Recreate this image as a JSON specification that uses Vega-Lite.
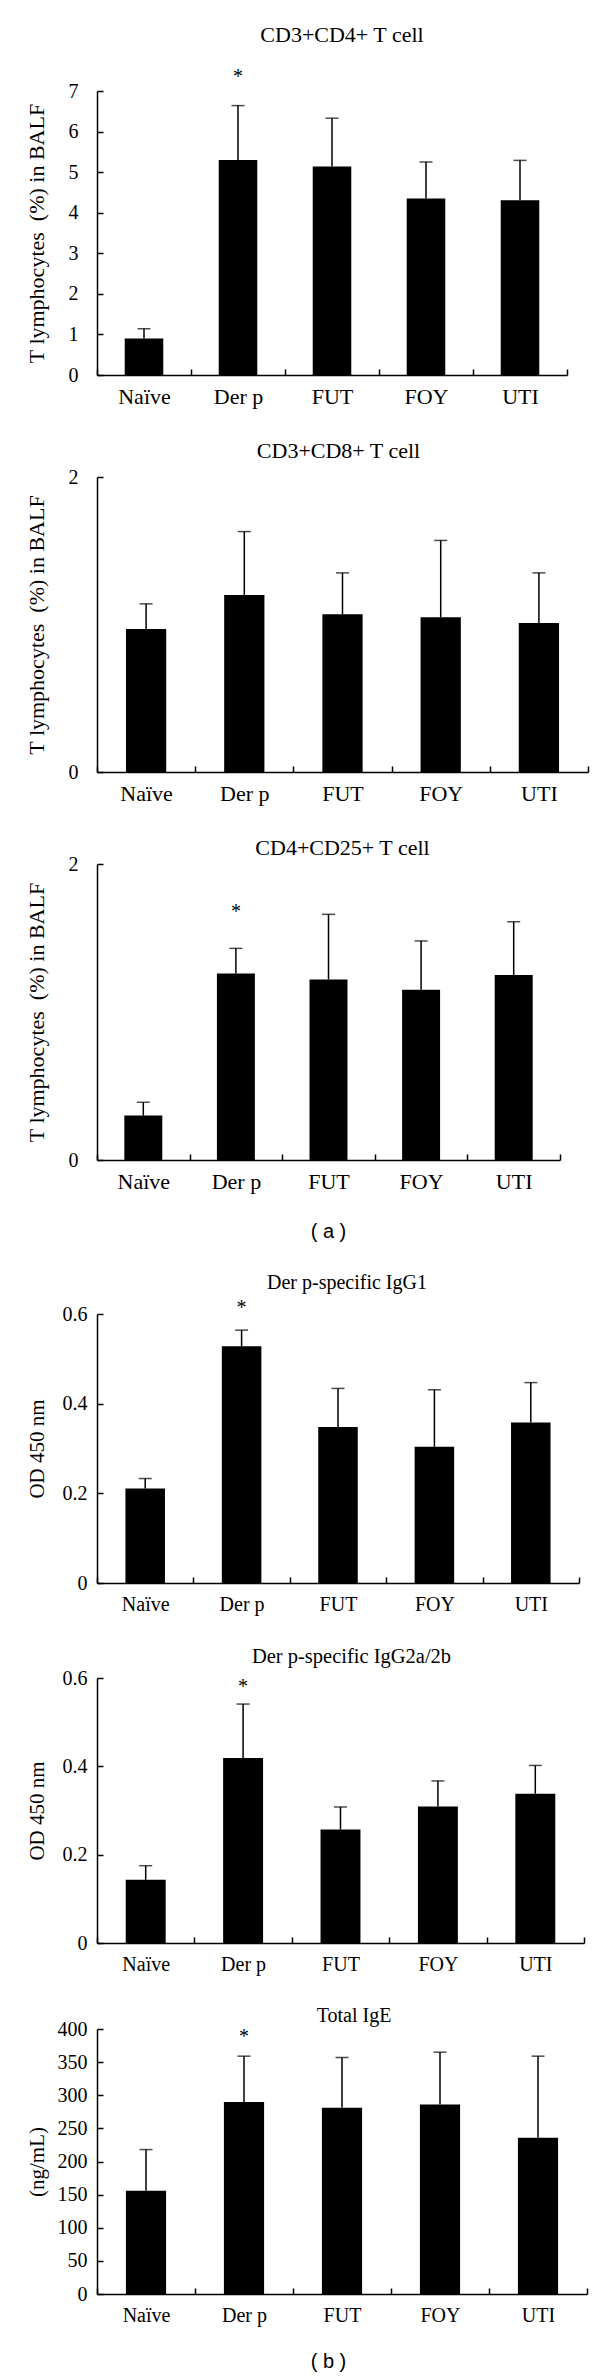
{
  "$schema": "https://vega.github.io/schema/vega-lite/v6.json",
  "background": "white",
  "padding": {"left": 24, "top": 23, "right": 5, "bottom": 5},
  "spacing": 32,
  "config": {
    "view": {"stroke": null},
    "font": "Liberation Serif",
    "title": {"font": "Liberation Serif", "fontWeight": "normal", "color": "#000", "baseline": "alphabetic", "frame": "group", "anchor": "middle"},
    "axis": {"domainColor": "#000", "domainWidth": 1.5, "tickColor": "#000", "tickWidth": 1.5, "labelColor": "#000", "titleColor": "#000", "grid": false, "labelFont": "Liberation Serif", "titleFont": "Liberation Serif", "titleFontWeight": "normal", "labelOverlap": false},
    "axisX": {"labelAngle": 0, "tickSize": -6, "tickBand": "extent", "labelPadding": 17.6},
    "axisY": {"tickSize": -6, "labelOverlap": false}
  },
  "vconcat": [
    {
      "width": 470, "height": 284,
      "title": {"text": "CD3+CD4+ T cell", "fontSize": 22, "offset": 20, "dx": 10},
      "data": {"values": [
        {"g": "Naïve", "v": 0.90, "e": 1.14, "s": null},
        {"g": "Der p", "v": 5.30, "e": 6.64, "s": 7.2},
        {"g": "FUT", "v": 5.14, "e": 6.33, "s": null},
        {"g": "FOY", "v": 4.35, "e": 5.25, "s": null},
        {"g": "UTI", "v": 4.31, "e": 5.29, "s": null}
      ]},
      "encoding": {"x": {"field": "g", "type": "nominal", "sort": null, "scale": {"paddingInner": 0, "paddingOuter": 0}, "axis": {"title": null, "labelFontSize": 22}}},
      "layer": [
        {"mark": {"type": "bar", "width": {"band": 0.41}, "color": "#000"},
         "encoding": {"y": {"field": "v", "type": "quantitative", "scale": {"domain": [0, 7], "nice": false},
           "axis": {"title": "T lymphocytes\u00a0 (%) in BALF", "titleFontSize": 22, "titleX": -54, "titleBaseline": "alphabetic", "tickCount": 7, "format": "d", "labelFontSize": 20, "labelPadding": 25, "labelOverlap": false}}}},
        {"mark": {"type": "rule", "strokeWidth": 1.5, "color": "#000"},
         "encoding": {"y": {"field": "v", "type": "quantitative"}, "y2": {"field": "e"}}},
        {"mark": {"type": "tick", "size": 13, "thickness": 1.5, "color": "#000", "orient": "horizontal"},
         "encoding": {"y": {"field": "e", "type": "quantitative"}}},
        {"transform": [{"filter": "datum.s != null"}],
         "mark": {"type": "text", "text": "*", "fontSize": 20, "baseline": "alphabetic", "color": "#000"},
         "encoding": {"y": {"field": "s", "type": "quantitative"}}}
      ]
    },
    {
      "width": 491, "height": 295,
      "title": {"text": "CD3+CD8+ T cell", "fontSize": 22, "offset": 4, "dx": -4},
      "data": {"values": [
        {"g": "Naïve", "v": 0.97, "e": 1.14},
        {"g": "Der p", "v": 1.20, "e": 1.63},
        {"g": "FUT", "v": 1.07, "e": 1.35},
        {"g": "FOY", "v": 1.05, "e": 1.57},
        {"g": "UTI", "v": 1.01, "e": 1.35}
      ]},
      "encoding": {"x": {"field": "g", "type": "nominal", "sort": null, "scale": {"paddingInner": 0, "paddingOuter": 0}, "axis": {"title": null, "labelFontSize": 22}}},
      "layer": [
        {"mark": {"type": "bar", "width": {"band": 0.41}, "color": "#000"},
         "encoding": {"y": {"field": "v", "type": "quantitative", "scale": {"domain": [0, 2], "nice": false},
           "axis": {"title": "T lymphocytes\u00a0 (%) in BALF", "titleFontSize": 22, "titleX": -54, "titleBaseline": "alphabetic", "values": [0,1,2], "format": "d", "labelFontSize": 20, "labelPadding": 25, "labelOverlap": false}}}},
        {"mark": {"type": "rule", "strokeWidth": 1.5, "color": "#000"},
         "encoding": {"y": {"field": "v", "type": "quantitative"}, "y2": {"field": "e"}}},
        {"mark": {"type": "tick", "size": 13, "thickness": 1.5, "color": "#000", "orient": "horizontal"},
         "encoding": {"y": {"field": "e", "type": "quantitative"}}}
      ]
    },
    {
      "width": 463, "height": 296,
      "title": {"text": "CD4+CD25+ T cell", "fontSize": 22, "offset": -6, "dx": 14},
      "data": {"values": [
        {"g": "Naïve", "v": 0.30, "e": 0.39, "s": null},
        {"g": "Der p", "v": 1.26, "e": 1.43, "s": 1.635},
        {"g": "FUT", "v": 1.22, "e": 1.66, "s": null},
        {"g": "FOY", "v": 1.15, "e": 1.48, "s": null},
        {"g": "UTI", "v": 1.25, "e": 1.61, "s": null}
      ]},
      "encoding": {"x": {"field": "g", "type": "nominal", "sort": null, "scale": {"paddingInner": 0, "paddingOuter": 0},
        "axis": {"title": "( a )", "titleFont": "Liberation Sans", "titleFontSize": 20, "titleX": 231, "titleY": 71, "titleAlign": "center", "titleBaseline": "middle", "labelFontSize": 22}}},
      "layer": [
        {"mark": {"type": "bar", "width": {"band": 0.41}, "color": "#000"},
         "encoding": {"y": {"field": "v", "type": "quantitative", "scale": {"domain": [0, 2], "nice": false},
           "axis": {"title": "T lymphocytes\u00a0 (%) in BALF", "titleFontSize": 22, "titleX": -54, "titleBaseline": "alphabetic", "values": [0,1,2], "format": "d", "labelFontSize": 20, "labelPadding": 25, "labelOverlap": false}}}},
        {"mark": {"type": "rule", "strokeWidth": 1.5, "color": "#000"},
         "encoding": {"y": {"field": "v", "type": "quantitative"}, "y2": {"field": "e"}}},
        {"mark": {"type": "tick", "size": 13, "thickness": 1.5, "color": "#000", "orient": "horizontal"},
         "encoding": {"y": {"field": "e", "type": "quantitative"}}},
        {"transform": [{"filter": "datum.s != null"}],
         "mark": {"type": "text", "text": "*", "fontSize": 20, "baseline": "alphabetic", "color": "#000"},
         "encoding": {"y": {"field": "s", "type": "quantitative"}}}
      ]
    },
    {
      "width": 482, "height": 269,
      "title": {"text": "Der p-specific IgG1", "fontSize": 20, "offset": 5, "dx": 9},
      "data": {"values": [
        {"g": "Naïve", "v": 0.211, "e": 0.233, "s": null},
        {"g": "Der p", "v": 0.528, "e": 0.564, "s": 0.6},
        {"g": "FUT", "v": 0.348, "e": 0.434, "s": null},
        {"g": "FOY", "v": 0.304, "e": 0.431, "s": null},
        {"g": "UTI", "v": 0.358, "e": 0.447, "s": null}
      ]},
      "encoding": {"x": {"field": "g", "type": "nominal", "sort": null, "scale": {"paddingInner": 0, "paddingOuter": 0}, "axis": {"title": null, "labelFontSize": 20, "labelPadding": 17}}},
      "layer": [
        {"mark": {"type": "bar", "width": {"band": 0.41}, "color": "#000"},
         "encoding": {"y": {"field": "v", "type": "quantitative", "scale": {"domain": [0, 0.6], "nice": false},
           "axis": {"title": "OD 450 nm", "titleFontSize": 21, "titleX": -54, "titleBaseline": "alphabetic", "values": [0, 0.2, 0.4, 0.6], "format": ".1~f", "labelFontSize": 20, "labelPadding": 16, "labelOverlap": false}}}},
        {"mark": {"type": "rule", "strokeWidth": 1.5, "color": "#000"},
         "encoding": {"y": {"field": "v", "type": "quantitative"}, "y2": {"field": "e"}}},
        {"mark": {"type": "tick", "size": 13, "thickness": 1.5, "color": "#000", "orient": "horizontal"},
         "encoding": {"y": {"field": "e", "type": "quantitative"}}},
        {"transform": [{"filter": "datum.s != null"}],
         "mark": {"type": "text", "text": "*", "fontSize": 20, "baseline": "alphabetic", "color": "#000"},
         "encoding": {"y": {"field": "s", "type": "quantitative"}}}
      ]
    },
    {
      "width": 487, "height": 265,
      "title": {"text": "Der p-specific IgG2a/2b", "fontSize": 20.5, "offset": 1, "dx": 11},
      "data": {"values": [
        {"g": "Naïve", "v": 0.143, "e": 0.175, "s": null},
        {"g": "Der p", "v": 0.419, "e": 0.541, "s": 0.566},
        {"g": "FUT", "v": 0.257, "e": 0.308, "s": null},
        {"g": "FOY", "v": 0.309, "e": 0.367, "s": null},
        {"g": "UTI", "v": 0.338, "e": 0.402, "s": null}
      ]},
      "encoding": {"x": {"field": "g", "type": "nominal", "sort": null, "scale": {"paddingInner": 0, "paddingOuter": 0}, "axis": {"title": null, "labelFontSize": 20, "labelPadding": 17}}},
      "layer": [
        {"mark": {"type": "bar", "width": {"band": 0.41}, "color": "#000"},
         "encoding": {"y": {"field": "v", "type": "quantitative", "scale": {"domain": [0, 0.6], "nice": false},
           "axis": {"title": "OD 450 nm", "titleFontSize": 21, "titleX": -54, "titleBaseline": "alphabetic", "values": [0, 0.2, 0.4, 0.6], "format": ".1~f", "labelFontSize": 20, "labelPadding": 16, "labelOverlap": false}}}},
        {"mark": {"type": "rule", "strokeWidth": 1.5, "color": "#000"},
         "encoding": {"y": {"field": "v", "type": "quantitative"}, "y2": {"field": "e"}}},
        {"mark": {"type": "tick", "size": 13, "thickness": 1.5, "color": "#000", "orient": "horizontal"},
         "encoding": {"y": {"field": "e", "type": "quantitative"}}},
        {"transform": [{"filter": "datum.s != null"}],
         "mark": {"type": "text", "text": "*", "fontSize": 20, "baseline": "alphabetic", "color": "#000"},
         "encoding": {"y": {"field": "s", "type": "quantitative"}}}
      ]
    },
    {
      "width": 490, "height": 265,
      "title": {"text": "Total IgE", "fontSize": 20, "offset": -7, "dx": 12},
      "data": {"values": [
        {"g": "Naïve", "v": 156, "e": 218, "s": null},
        {"g": "Der p", "v": 290, "e": 359, "s": 379},
        {"g": "FUT", "v": 281, "e": 357, "s": null},
        {"g": "FOY", "v": 286, "e": 365, "s": null},
        {"g": "UTI", "v": 236, "e": 359, "s": null}
      ]},
      "encoding": {"x": {"field": "g", "type": "nominal", "sort": null, "scale": {"paddingInner": 0, "paddingOuter": 0},
        "axis": {"title": "( b )", "titleFont": "Liberation Sans", "titleFontSize": 20, "titleX": 231, "titleY": 67, "titleAlign": "center", "titleBaseline": "middle", "labelFontSize": 20, "labelPadding": 17}}},
      "layer": [
        {"mark": {"type": "bar", "width": {"band": 0.41}, "color": "#000"},
         "encoding": {"y": {"field": "v", "type": "quantitative", "scale": {"domain": [0, 400], "nice": false},
           "axis": {"title": "(ng/mL)", "titleFontSize": 21, "titleX": -54, "titleBaseline": "alphabetic", "tickCount": 8, "format": "d", "labelFontSize": 20, "labelPadding": 16, "labelOverlap": false}}}},
        {"mark": {"type": "rule", "strokeWidth": 1.5, "color": "#000"},
         "encoding": {"y": {"field": "v", "type": "quantitative"}, "y2": {"field": "e"}}},
        {"mark": {"type": "tick", "size": 13, "thickness": 1.5, "color": "#000", "orient": "horizontal"},
         "encoding": {"y": {"field": "e", "type": "quantitative"}}},
        {"transform": [{"filter": "datum.s != null"}],
         "mark": {"type": "text", "text": "*", "fontSize": 20, "baseline": "alphabetic", "color": "#000"},
         "encoding": {"y": {"field": "s", "type": "quantitative"}}}
      ]
    }
  ]
}
